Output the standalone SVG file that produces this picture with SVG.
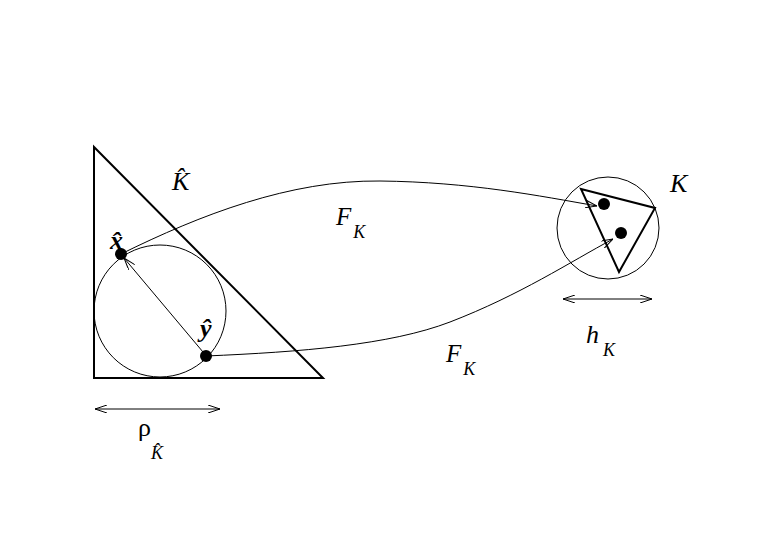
<svg xmlns="http://www.w3.org/2000/svg" width="768" height="549" viewBox="0 0 768 549">
<style>
.thin{fill:none;stroke:#000;stroke-width:1}
.thick{fill:none;stroke:#000;stroke-width:2}
.lbl{font-family:"Liberation Serif",serif;font-style:italic;fill:#000}
.rm{font-family:"Liberation Serif",serif;fill:#000}
.dot{fill:#000}
</style>
<defs>
<marker id="ah" viewBox="0 0 12 8" refX="12" refY="4" markerWidth="12" markerHeight="8" markerUnits="userSpaceOnUse" orient="auto-start-reverse">
<path d="M0,0 L12,4 L0,8" fill="none" stroke="#000" stroke-width="1"/>
</marker>
</defs>
<rect width="768" height="549" fill="#fff"/>
<g id="Khat">
<polygon class="thick" points="94,147 94,378 323,378"/>
<circle class="thin" cx="160" cy="311" r="66"/>
<text class="lbl" x="172" y="190" font-size="26">K̂</text>
</g>
<g id="K">
<circle class="thin" cx="608" cy="228" r="51"/>
<polygon class="thick" points="581,189 655,208 619,272"/>
<text class="lbl" x="670" y="192" font-size="26">K</text>
</g>
<g id="xhat">
<circle class="dot" cx="121" cy="254" r="6"/>
<text class="lbl" x="110" y="249" font-size="26" font-weight="bold">x̂</text>
</g>
<g id="yhat">
<circle class="dot" cx="206" cy="356" r="6"/>
<text class="lbl" x="200" y="337" font-size="26" font-weight="bold">ŷ</text>
</g>
<g id="p1"><circle class="dot" cx="604" cy="204" r="6"/></g>
<g id="p2"><circle class="dot" cx="621" cy="233" r="6"/></g>
<g id="connectors">
<line class="thin" x1="203" y1="352" x2="124" y2="258" marker-end="url(#ah)"/>
<path class="thin" d="M121,254 C200,215 290,180 380,181 C470,182 540,196 597,206" marker-end="url(#ah)"/>
<path class="thin" d="M206,356 C300,352 390,345 450,322 C520,295 570,262 613,239" marker-end="url(#ah)"/>
<line class="thin" x1="95" y1="409" x2="220" y2="409" marker-start="url(#ah)" marker-end="url(#ah)"/>
<line class="thin" x1="563" y1="299" x2="652" y2="299" marker-start="url(#ah)" marker-end="url(#ah)"/>
</g>
<g id="labels">
<text class="lbl" x="336" y="225" font-size="25">F<tspan font-size="18" dx="2" dy="13">K</tspan></text>
<text class="lbl" x="446" y="362" font-size="25">F<tspan font-size="18" dx="2" dy="13">K</tspan></text>
<text class="lbl" x="586" y="343" font-size="26">h<tspan font-size="18" dx="4" dy="13">K</tspan></text>
<text class="rm" x="138" y="436" font-size="26">ρ<tspan class="lbl" font-size="18" dx="0" dy="23">K̂</tspan></text>
</g>
</svg>
